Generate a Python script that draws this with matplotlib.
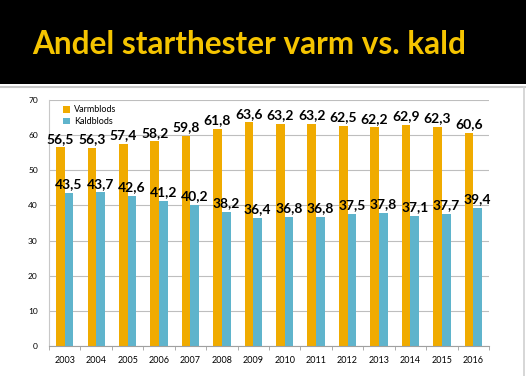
import matplotlib
matplotlib.use('Agg')
import matplotlib.pyplot as plt
from matplotlib.patches import Rectangle
import numpy as np

years = ['2003', '2004', '2005', '2006', '2007', '2008', '2009',
         '2010', '2011', '2012', '2013', '2014', '2015', '2016']
varmblods = [56.5, 56.3, 57.4, 58.2, 59.8, 61.8, 63.6, 63.2, 63.2, 62.5, 62.2, 62.9, 62.3, 60.6]
kaldblods = [43.5, 43.7, 42.6, 41.2, 40.2, 38.2, 36.4, 36.8, 36.8, 37.5, 37.8, 37.1, 37.7, 39.4]

orange = '#F0AB00'
blue = '#5FB4CC'

fig = plt.figure(figsize=(5.26, 3.76), dpi=100)
fig.patch.set_facecolor('white')

# sort bakgrunn for tittel + grå linjer
fig.patches.append(Rectangle((0, 1 - 84 / 376), 1, 84 / 376, transform=fig.transFigure,
                             facecolor='black', edgecolor='none', zorder=0))
fig.add_artist(plt.Line2D([0, 1], [1 - 86.5 / 376] * 2, transform=fig.transFigure,
                          color='#C8C8C8', lw=1.5))
fig.add_artist(plt.Line2D([524 / 526] * 2, [0, 1 - 86.5 / 376], transform=fig.transFigure,
                          color='#D0D0D0', lw=1.2))
fig.text(32 / 526, 1 - 44 / 376, 'Andel starthester varm vs. kald', color='#F5C400',
         fontsize=22.7, family='Lato', fontweight='bold', ha='left', va='center')

ax = fig.add_axes([49 / 526, 30 / 376, 440 / 526, 246 / 376])
x = np.arange(len(years))
w = 0.275
b1 = ax.bar(x - w / 2, varmblods, w, color=orange, label='Varmblods', zorder=2)
b2 = ax.bar(x + w / 2, kaldblods, w, color=blue, label='Kaldblods', zorder=2)

for bars in (b1, b2):
    for bar in bars:
        h = bar.get_height()
        ax.text(bar.get_x() + bar.get_width() / 2, h + 0.8, f'{h:.1f}'.replace('.', ','),
                ha='center', va='bottom', fontsize=10, family='Lato', fontweight='bold',
                color='black', zorder=3)

ax.set_xlim(-0.5, len(years) - 0.5)
ax.set_ylim(0, 70)
ax.set_yticks(range(0, 71, 10))
ax.yaxis.grid(True, color='#BEBEBE', lw=0.8, zorder=0)
ax.set_axisbelow(True)
ax.set_xticks(x)
ax.set_xticklabels(years, fontsize=6.5, family='Lato')
ax.set_xticks(np.arange(-0.5, len(years), 1), minor=True)
ax.tick_params(axis='x', which='major', length=0, pad=7)
ax.tick_params(axis='x', which='minor', length=3, color='#A0A0A0', direction='out')
ax.tick_params(axis='y', length=0, labelsize=6, pad=8)
for lab in ax.get_yticklabels():
    lab.set_family('Lato')
for s in ('top', 'right'):
    ax.spines[s].set_visible(False)
ax.spines['left'].set_color('#C8C8C8')
ax.spines['bottom'].set_color('#A0A0A0')

ax.legend(loc='upper left', bbox_to_anchor=(0.02, 1.0), frameon=False,
          prop={'family': 'Lato', 'size': 6.5}, handlelength=0.8, handleheight=0.8,
          labelspacing=0.3, handletextpad=0.4, borderaxespad=0.2)

fig.savefig('out.png', dpi=100)
